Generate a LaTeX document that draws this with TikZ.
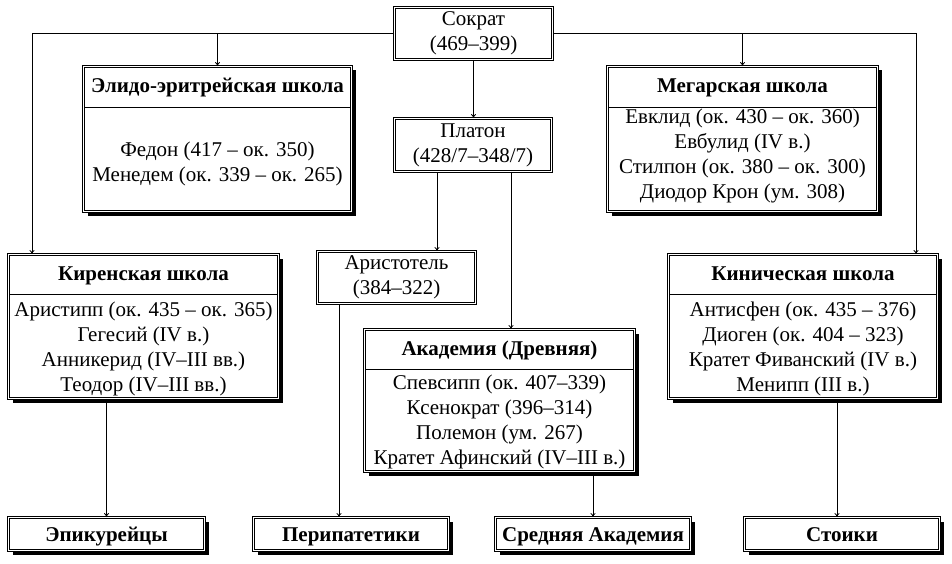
\documentclass[tikz,border=0pt]{standalone}
\usepackage{fontspec}
\setmainfont{Liberation Serif}
\usetikzlibrary{arrows.meta,shadows}

\begin{document}
\begin{tikzpicture}[x=1pt,y=-1pt,
    every node/.style={font=\fontsize{21}{25}\selectfont},
    box/.style={draw,double,double distance=1.2pt,line width=0.8pt,fill=white,inner sep=0pt,align=center},
    shbox/.style={box,drop shadow={shadow xshift=4pt,shadow yshift=-4pt,opacity=1,fill=black}},
    txt/.style={inner sep=0pt,align=center},
    head/.style={txt,font=\fontsize{21}{25}\selectfont\bfseries,text height=14pt,text depth=0pt},
    foll/.style={shbox,minimum width=195pt,minimum height=33pt,font=\fontsize{21}{25}\selectfont\bfseries,text height=14pt,text depth=0pt},
    sep/.style={line width=0.8pt,shorten <=1pt,shorten >=1pt},
    arr/.style={-{To[length=4pt,width=5pt]},line width=0.8pt}]
  \useasboundingbox (0,0) rectangle (952,564);
  % people
  \path
    (473.5,33.5) node[box,minimum width=158pt,minimum height=52pt] (socr) {Сократ\\(469–399)}
    (473,145) node[box,minimum width=157pt,minimum height=53pt] (plat) {Платон\\(428/7–348/7)}
    (396.5,277.5) node[box,minimum width=158pt,minimum height=52pt] (arist) {Аристотель\\(384–322)};
  % schools
  \path
    (217.5,139) node[shbox,minimum width=268pt,minimum height=145pt] (elido) {}
    (742.5,139) node[shbox,minimum width=270pt,minimum height=145pt] (megar) {}
    (143.5,326.5) node[shbox,minimum width=270pt,minimum height=144pt] (kiren) {}
    (803,326.5) node[shbox,minimum width=269pt,minimum height=144pt] (kinich) {}
    (499.5,400.5) node[shbox,minimum width=270pt,minimum height=142pt] (acad) {};
  \path
    (217.5,86) node[head] (elidoh) {Элидо-эритрейская школа}
    (217.5,164) node[txt] (elidob) {Федон (417 – ок. 350)\\Менедем (ок. 339 – ок. 265)}
    (742.5,86) node[head] (megarh) {Мегарская школа}
    (742.5,156) node[txt] (megarb) {Евклид (ок. 430 – ок. 360)\\Евбулид (IV в.)\\Стилпон (ок. 380 – ок. 300)\\Диодор Крон (ум. 308)}
    (143.5,273.5) node[head] (kirenh) {Киренская школа}
    (143.5,349) node[txt] (kirenb) {Аристипп (ок. 435 – ок. 365)\\Гегесий (IV в.)\\Анникерид (IV–III вв.)\\Теодор (IV–III вв.)}
    (803,273.5) node[head] (kinichh) {Киническая школа}
    (803,349) node[txt] (kinichb) {Антисфен (ок. 435 – 376)\\Диоген (ок. 404 – 323)\\Кратет Фиванский (IV в.)\\Менипп (III в.)}
    (499.5,348.5) node[head] (acadh) {Академия (Древняя)}
    (499.5,422) node[txt] (acadb) {Спевсипп (ок. 407–339)\\Ксенократ (396–314)\\Полемон (ум. 267)\\Кратет Афинский (IV–III в.)};
  \draw[sep] (elido.west |- 0,107) -- (elido.east |- 0,107);
  \draw[sep] (megar.west |- 0,107) -- (megar.east |- 0,107);
  \draw[sep] (kiren.west |- 0,294) -- (kiren.east |- 0,294);
  \draw[sep] (kinich.west |- 0,294) -- (kinich.east |- 0,294);
  \draw[sep] (acad.west |- 0,369) -- (acad.east |- 0,369);
  % followers
  \path
    (106.5,534) node[foll,minimum width=196pt] (epik) {Эпикурейцы}
    (351,534) node[foll] (perip) {Перипатетики}
    (593,534) node[foll] (sredn) {Средняя Академия}
    (842,534) node[foll] (stoik) {Стоики};
  \coordinate (lft) at (32,33.5);
  \coordinate (rgt) at (916,33.5);
  \begin{scope}[arr]
    \draw (socr.west) -- (lft) -- (lft |- kiren.north);
    \draw (socr.east) -- (rgt) -- (rgt |- kinich.north);
    \draw (elido.north |- socr.west) -- (elido.north);
    \draw (megar.north |- socr.east) -- (megar.north);
    \draw (socr.south) -- (socr.south |- plat.north);
    \draw ([xshift=-36pt]plat.south) -- ([xshift=-36pt]plat.south |- arist.north);
    \draw ([xshift=38pt]plat.south) -- ([xshift=38pt]plat.south |- acad.north);
    \draw (epik.north |- kiren.south) -- (epik.north);
    \draw ([xshift=-12pt]perip.north |- arist.south) -- ([xshift=-12pt]perip.north);
    \draw (sredn.north |- acad.south) -- (sredn.north);
    \draw ([xshift=-5pt]stoik.north |- kinich.south) -- ([xshift=-5pt]stoik.north);
  \end{scope}
\end{tikzpicture}
\end{document}
